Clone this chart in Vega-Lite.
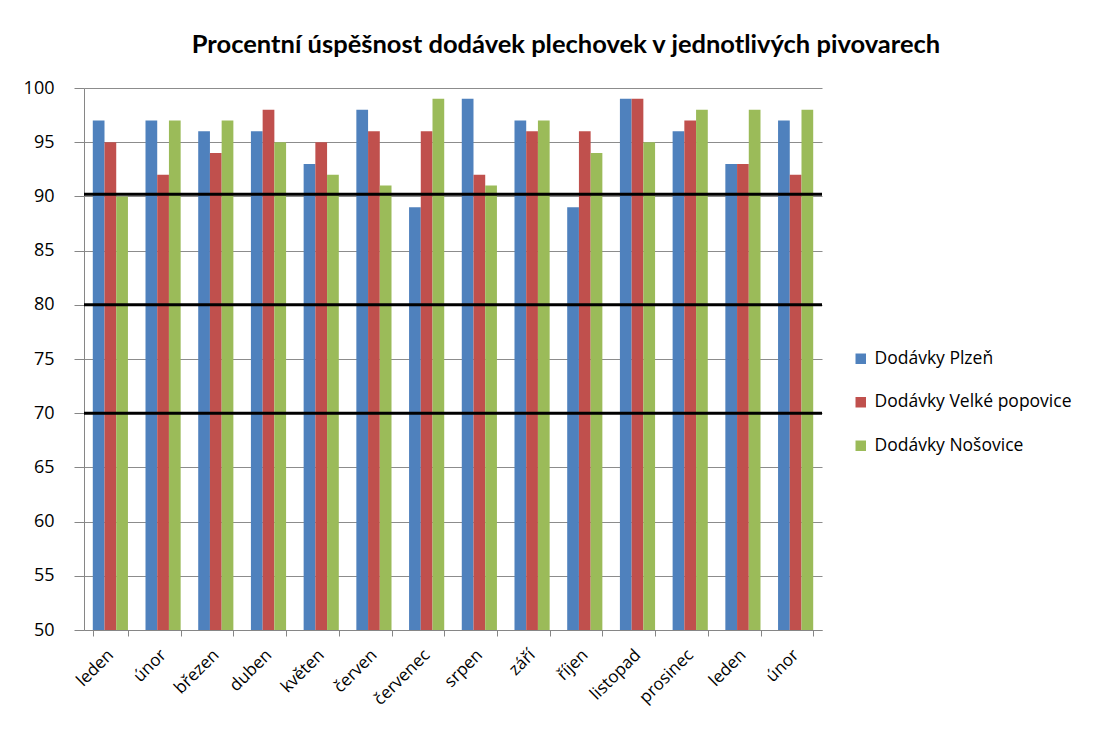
{
  "$schema": "https://vega.github.io/schema/vega-lite/v6.json",
  "width": 738,
  "height": 542,
  "autosize": "none",
  "padding": {"left": 84, "top": 88, "right": 298, "bottom": 106},
  "background": "white",
  "config": {"view": {"stroke": null}},
  "title": {
    "text": "Procentní úspěšnost dodávek plechovek v jednotlivých pivovarech",
    "font": "Lato",
    "fontSize": 25.5,
    "fontWeight": "bold",
    "color": "black",
    "anchor": "middle",
    "baseline": "bottom",
    "dx": 113,
    "offset": -4
  },
  "datasets": {
    "dodavky": [
      {"i": 0, "mesic": "leden", "serie": "Dodávky Plzeň", "hodnota": 97},
      {"i": 0, "mesic": "leden", "serie": "Dodávky Velké popovice", "hodnota": 95},
      {"i": 0, "mesic": "leden", "serie": "Dodávky Nošovice", "hodnota": 90},
      {"i": 1, "mesic": "únor", "serie": "Dodávky Plzeň", "hodnota": 97},
      {"i": 1, "mesic": "únor", "serie": "Dodávky Velké popovice", "hodnota": 92},
      {"i": 1, "mesic": "únor", "serie": "Dodávky Nošovice", "hodnota": 97},
      {"i": 2, "mesic": "březen", "serie": "Dodávky Plzeň", "hodnota": 96},
      {"i": 2, "mesic": "březen", "serie": "Dodávky Velké popovice", "hodnota": 94},
      {"i": 2, "mesic": "březen", "serie": "Dodávky Nošovice", "hodnota": 97},
      {"i": 3, "mesic": "duben", "serie": "Dodávky Plzeň", "hodnota": 96},
      {"i": 3, "mesic": "duben", "serie": "Dodávky Velké popovice", "hodnota": 98},
      {"i": 3, "mesic": "duben", "serie": "Dodávky Nošovice", "hodnota": 95},
      {"i": 4, "mesic": "květen", "serie": "Dodávky Plzeň", "hodnota": 93},
      {"i": 4, "mesic": "květen", "serie": "Dodávky Velké popovice", "hodnota": 95},
      {"i": 4, "mesic": "květen", "serie": "Dodávky Nošovice", "hodnota": 92},
      {"i": 5, "mesic": "červen", "serie": "Dodávky Plzeň", "hodnota": 98},
      {"i": 5, "mesic": "červen", "serie": "Dodávky Velké popovice", "hodnota": 96},
      {"i": 5, "mesic": "červen", "serie": "Dodávky Nošovice", "hodnota": 91},
      {"i": 6, "mesic": "červenec", "serie": "Dodávky Plzeň", "hodnota": 89},
      {"i": 6, "mesic": "červenec", "serie": "Dodávky Velké popovice", "hodnota": 96},
      {"i": 6, "mesic": "červenec", "serie": "Dodávky Nošovice", "hodnota": 99},
      {"i": 7, "mesic": "srpen", "serie": "Dodávky Plzeň", "hodnota": 99},
      {"i": 7, "mesic": "srpen", "serie": "Dodávky Velké popovice", "hodnota": 92},
      {"i": 7, "mesic": "srpen", "serie": "Dodávky Nošovice", "hodnota": 91},
      {"i": 8, "mesic": "září", "serie": "Dodávky Plzeň", "hodnota": 97},
      {"i": 8, "mesic": "září", "serie": "Dodávky Velké popovice", "hodnota": 96},
      {"i": 8, "mesic": "září", "serie": "Dodávky Nošovice", "hodnota": 97},
      {"i": 9, "mesic": "říjen", "serie": "Dodávky Plzeň", "hodnota": 89},
      {"i": 9, "mesic": "říjen", "serie": "Dodávky Velké popovice", "hodnota": 96},
      {"i": 9, "mesic": "říjen", "serie": "Dodávky Nošovice", "hodnota": 94},
      {"i": 10, "mesic": "listopad", "serie": "Dodávky Plzeň", "hodnota": 99},
      {"i": 10, "mesic": "listopad", "serie": "Dodávky Velké popovice", "hodnota": 99},
      {"i": 10, "mesic": "listopad", "serie": "Dodávky Nošovice", "hodnota": 95},
      {"i": 11, "mesic": "prosinec", "serie": "Dodávky Plzeň", "hodnota": 96},
      {"i": 11, "mesic": "prosinec", "serie": "Dodávky Velké popovice", "hodnota": 97},
      {"i": 11, "mesic": "prosinec", "serie": "Dodávky Nošovice", "hodnota": 98},
      {"i": 12, "mesic": "leden", "serie": "Dodávky Plzeň", "hodnota": 93},
      {"i": 12, "mesic": "leden", "serie": "Dodávky Velké popovice", "hodnota": 93},
      {"i": 12, "mesic": "leden", "serie": "Dodávky Nošovice", "hodnota": 98},
      {"i": 13, "mesic": "únor", "serie": "Dodávky Plzeň", "hodnota": 97},
      {"i": 13, "mesic": "únor", "serie": "Dodávky Velké popovice", "hodnota": 92},
      {"i": 13, "mesic": "únor", "serie": "Dodávky Nošovice", "hodnota": 98}
    ],
    "hranice": [
      {"hodnota": 90.2},
      {"hodnota": 80},
      {"hodnota": 70}
    ]
  },
  "layer": [
    {
      "data": {"name": "dodavky"},
      "mark": {"type": "bar", "clip": true},
      "encoding": {
        "x": {
          "field": "i",
          "type": "ordinal",
          "scale": {"paddingInner": 0.333, "paddingOuter": 0.1667},
          "axis": {
            "title": null,
            "labelExpr": "['leden','únor','březen','duben','květen','červen','červenec','srpen','září','říjen','listopad','prosinec','leden','únor'][datum.value]",
            "labelAngle": -45,
            "labelAlign": "right",
            "labelBaseline": "middle",
            "labelPadding": 16,
            "labelFont": "Open Sans",
            "labelFontSize": 17,
            "labelColor": "black",
            "tickBand": "extent",
            "tickSize": 6,
            "tickColor": "#868686",
            "domainColor": "#868686",
            "grid": false
          }
        },
        "xOffset": {
          "field": "serie",
          "type": "nominal",
          "sort": ["Dodávky Plzeň", "Dodávky Velké popovice", "Dodávky Nošovice"],
          "scale": {"paddingInner": 0, "paddingOuter": 0}
        },
        "y": {
          "field": "hodnota",
          "type": "quantitative",
          "scale": {"domain": [50, 100], "zero": false, "nice": false},
          "axis": {
            "title": null,
            "values": [50, 55, 60, 65, 70, 75, 80, 85, 90, 95, 100],
            "labelFont": "Open Sans",
            "labelFontSize": 18,
            "labelColor": "black",
            "labelPadding": 20,
            "tickSize": 10,
            "tickColor": "#868686",
            "domainColor": "#868686",
            "gridColor": "#8c8c8c",
            "gridWidth": 1.2
          }
        },
        "color": {
          "field": "serie",
          "type": "nominal",
          "scale": {
            "domain": ["Dodávky Plzeň", "Dodávky Velké popovice", "Dodávky Nošovice"],
            "range": ["#4F81BD", "#C0504D", "#9BBB59"]
          },
          "legend": {
            "title": null,
            "orient": "none",
            "legendX": 768,
            "legendY": 262,
            "padding": 0,
            "symbolType": "square",
            "symbolSize": 110,
            "symbolStrokeWidth": 0,
            "labelFont": "Open Sans",
            "labelFontSize": 17.5,
            "labelColor": "black",
            "labelLimit": 400,
            "labelOffset": 5,
            "rowPadding": 24.5
          }
        }
      }
    },
    {
      "data": {"name": "hranice"},
      "mark": {"type": "rule", "color": "black", "strokeWidth": 3},
      "encoding": {
        "y": {"field": "hodnota", "type": "quantitative"}
      }
    }
  ]
}
